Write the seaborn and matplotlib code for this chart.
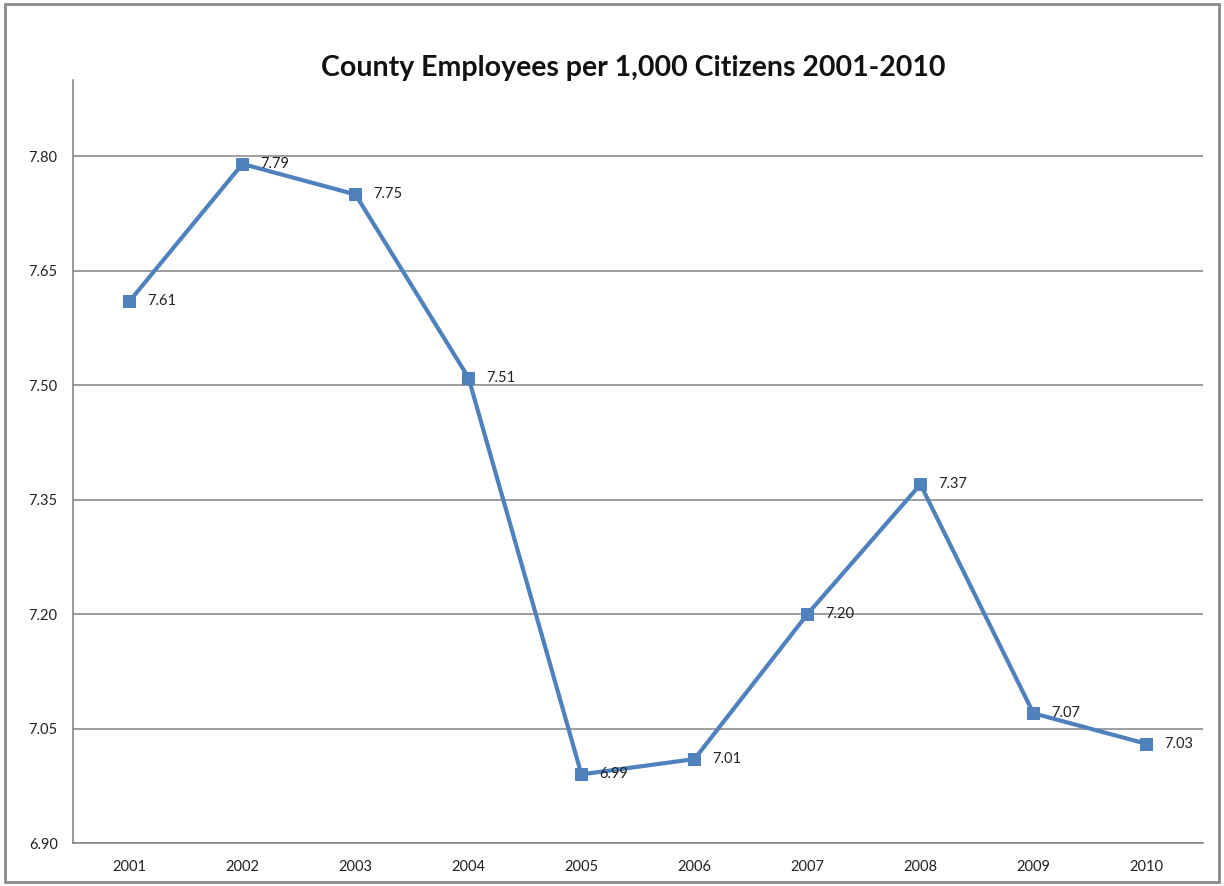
import matplotlib
matplotlib.use("Agg")
import matplotlib.pyplot as plt
from matplotlib.patches import Rectangle
import seaborn as sns
import pandas as pd

years = ["2001", "2002", "2003", "2004", "2005", "2006", "2007", "2008", "2009", "2010"]
employees = [7.61, 7.79, 7.75, 7.51, 6.99, 7.01, 7.20, 7.37, 7.07, 7.03]
yticks = [6.90, 7.05, 7.20, 7.35, 7.50, 7.65, 7.80]

df = pd.DataFrame({"year": years, "value": employees})

sns.set_style("white")
plt.rcParams["font.family"] = ["Lato", "DejaVu Sans"]

fig = plt.figure(figsize=(12.24, 8.86), dpi=100)
ax = fig.add_axes([0.0596, 0.0485, 0.9232, 0.8612])

blue = "#4f81bd"
sns.lineplot(data=df, x="year", y="value", ax=ax, color=blue, linewidth=3,
             marker="s", markersize=8.5, markeredgecolor=blue, sort=False)

for i, v in enumerate(employees):
    ax.annotate(f"{v:.2f}", (i, v), xytext=(13, 0), textcoords="offset points",
                ha="left", va="center", fontsize=10.5, color="#222222")

ax.set_ylim(6.90, 7.90)
ax.set_xlim(-0.5, len(years) - 0.5)
ax.set_yticks(yticks)
ax.set_yticklabels([f"{t:.2f}" for t in yticks], fontsize=10.5, color="#222222")
ax.set_xticks(range(len(years)))
ax.set_xticklabels(years, fontsize=10.5, color="#222222")
ax.set_xticks([i - 0.5 for i in range(len(years) + 1)], minor=True)
ax.tick_params(axis="x", which="major", length=0, pad=12)
ax.tick_params(axis="x", which="minor", length=5, width=1, color="#888888", direction="out")
ax.tick_params(axis="y", length=5, width=1, color="#888888", direction="out", pad=6)

ax.yaxis.grid(True, color="#8c8c8c", linewidth=1.2)
ax.set_axisbelow(True)
sns.despine(ax=ax, top=True, right=True)
for s in ["left", "bottom"]:
    ax.spines[s].set_color("#888888")
    ax.spines[s].set_linewidth(1.2)
ax.set_xlabel("")
ax.set_ylabel("")

fig.text(0.517, 0.923, "County Employees per 1,000 Citizens 2001-2010",
         ha="center", va="center", fontsize=20.5, fontweight="bold", color="#111111")

fig.patches.append(Rectangle((0.004, 0.004), 0.992, 0.991, transform=fig.transFigure,
                             fill=False, edgecolor="#8a8a8a", linewidth=2, figure=fig))

fig.savefig("out.png", dpi=100)
